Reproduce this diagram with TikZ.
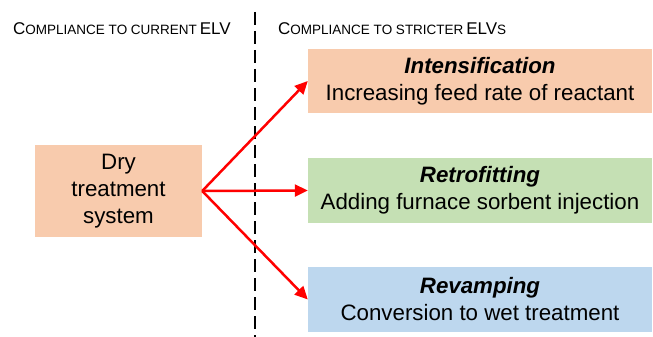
\documentclass[tikz,border=0pt]{standalone}
\usepackage{fontspec}
\setmainfont{Liberation Sans}
\usetikzlibrary{arrows.meta}
\definecolor{peach}{HTML}{F8CBAD}
\definecolor{lgreen}{HTML}{C5E0B4}
\definecolor{lblue}{HTML}{BDD7EE}
\newcommand{\bigc}[1]{{\fontsize{17}{19}\selectfont #1}}
\newcommand{\smc}[1]{{\fontsize{13.5}{16}\selectfont #1}}
\begin{document}
\begin{tikzpicture}[x=1pt,y=-1pt,
  box/.style={inner sep=0pt, align=center, font=\fontsize{22.3}{27}\selectfont},
  header/.style={anchor=base west, inner sep=0pt},
  flow/.style={draw=red, line width=2.5pt, -{Triangle[length=13pt,width=12pt]}},
  divider/.style={draw=black, line width=2.2pt, dash pattern=on 13pt off 6pt}]
\useasboundingbox[fill=white] (0,0) rectangle (653,337);
\coordinate (dtop) at (255,12);
\coordinate (dbot) at (255,337);
\draw[divider] (dtop) -- (dbot);
\node[header] (hl) at (13,35) {\bigc{C}\smc{OMPLIANCE TO CURRENT} \bigc{ELV}};
\node[header] (hr) at (278,35) {\bigc{C}\smc{OMPLIANCE TO STRICTER} \bigc{ELV}\smc{S}};
\node[box, fill=peach, minimum width=167pt, minimum height=92pt] (dry) at (118.5,191) {Dry\\treatment\\system};
\node[box, fill=peach, minimum width=344pt, minimum height=64pt] (int) at (480,81) {\textbf{\textit{Intensification}}\\Increasing feed rate of reactant};
\node[box, fill=lgreen, minimum width=344pt, minimum height=65pt] (ret) at (480,190.5) {\textbf{\textit{Retrofitting}}\\Adding furnace sorbent injection};
\node[box, fill=lblue, minimum width=344pt, minimum height=65pt] (rev) at (480,299.5) {\textbf{\textit{Revamping}}\\Conversion to wet treatment};
\draw[flow] (dry.east) -- (int.west);
\draw[flow] (dry.east) -- (ret.west);
\draw[flow] (dry.east) -- (rev.west);
\end{tikzpicture}
\end{document}
